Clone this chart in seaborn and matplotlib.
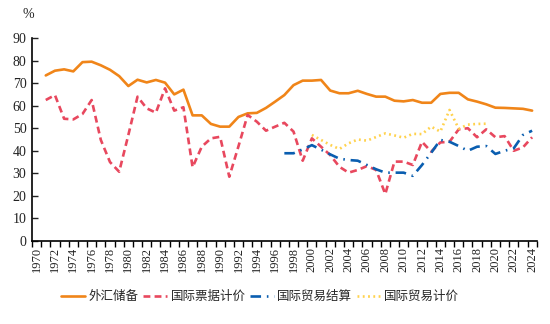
import numpy as np
import pandas as pd
import matplotlib
matplotlib.use("Agg")
import matplotlib.pyplot as plt
import seaborn as sns

# ---------------- data ----------------
years_all = list(range(1970, 2025))
tick_years = list(range(1970, 2025, 2))

fx_years = list(range(1971, 2025))
fx_reserves = [73.4, 75.5, 76.1, 75.2, 79.3, 79.5, 77.9, 75.9, 73.1, 68.7,
               71.5, 70.3, 71.4, 70.2, 65.0, 67.1, 55.7, 55.7, 51.9, 50.7,
               50.7, 55.0, 56.6, 56.8, 59.0, 61.8, 64.7, 69.1, 71.1, 71.1,
               71.4, 66.7, 65.5, 65.5, 66.6, 65.2, 64.0, 64.0, 62.2, 61.9,
               62.5, 61.3, 61.3, 65.2, 65.7, 65.7, 62.8, 61.8, 60.6, 59.1,
               59.0, 58.8, 58.6, 57.8]

bill_years = list(range(1971, 2025))
bill_pricing = [62.5, 64.7, 54.2, 53.9, 56.3, 62.5, 44.8, 35.0, 30.7, 47.0,
                64.0, 58.8, 56.9, 67.7, 57.8, 59.3, 32.7, 41.8, 45.5, 46.2,
                28.5, 42.0, 55.9, 52.9, 48.9, 50.7, 52.4, 48.5, 35.6, 45.5,
                41.8, 38.1, 32.9, 30.3, 31.5, 33.2, 31.5, 20.8, 35.2, 35.2,
                33.7, 44.0, 39.6, 43.7, 44.0, 49.5, 50.0, 46.0, 49.5, 46.0,
                46.5, 40.0, 41.5, 46.0]

settle_years = list(range(1997, 2025))
trade_settlement = [38.9, 38.9, 40.6, 42.5, 40.5, 38.4, 36.5, 35.9, 35.6, 33.7,
                    31.8, 30.3, 30.3, 30.3, 28.9, 33.7, 39.1, 44.8, 44.0, 42.1,
                    40.0, 41.8, 42.1, 38.6, 40.0, 41.1, 47.0, 48.9]

tprice_years = list(range(2000, 2020))
trade_pricing = [47.0, 44.8, 42.6, 40.8, 43.3, 45.0, 44.5, 46.1, 47.7, 46.8,
                 45.8, 47.5, 47.4, 50.7, 48.5, 58.1, 49.8, 51.6, 51.9, 52.0]

series_names = ["外汇储备", "国际票据计价", "国际贸易结算", "国际贸易计价"]

df = pd.concat([
    pd.DataFrame({"year": fx_years, "value": fx_reserves, "series": series_names[0]}),
    pd.DataFrame({"year": bill_years, "value": bill_pricing, "series": series_names[1]}),
    pd.DataFrame({"year": settle_years, "value": trade_settlement, "series": series_names[2]}),
    pd.DataFrame({"year": tprice_years, "value": trade_pricing, "series": series_names[3]}),
], ignore_index=True)

# ---------------- style ----------------
sns.set_theme(style="white")
plt.rcParams["font.family"] = ["Liberation Serif", "Noto Sans CJK SC", "DejaVu Sans"]
plt.rcParams["axes.unicode_minus"] = False

palette = {
    "外汇储备": "#F08519",
    "国际票据计价": "#E8485E",
    "国际贸易结算": "#0A5EB0",
    "国际贸易计价": "#FFD24D",
}
dashes = {
    "外汇储备": "",
    "国际票据计价": (2.6, 1.6),
    "国际贸易结算": (4.0, 2.2, 0.6, 2.2),
    "国际贸易计价": (0.7, 1.3),
}

fig = plt.figure(figsize=(5.5, 3.24), dpi=100)
ax = fig.add_axes([32 / 550, 1 - 241 / 324, (536.7 - 32) / 550, (241 - 38) / 324])

sns.lineplot(data=df, x="year", y="value", hue="series", style="series",
             hue_order=series_names, style_order=series_names,
             palette=palette, dashes=dashes, linewidth=1.9, ax=ax,
             sort=True, estimator=None)

ax.set_xlim(1969.5, 2024.5)
ax.set_ylim(0, 90)
ax.set_yticks(range(0, 91, 10))
ax.set_xticks(tick_years)
ax.set_xticklabels([str(y) for y in tick_years], rotation=90)
ax.set_xticks([y - 0.5 for y in years_all] + [2024.5], minor=True)
ax.tick_params(axis="x", which="major", length=0, pad=4, labelsize=9, colors="#222222")
ax.tick_params(axis="x", which="minor", length=4, width=1, direction="out", color="black", bottom=True)
ax.tick_params(axis="y", which="major", length=4, width=1, direction="in", labelsize=10, colors="#222222", pad=4, left=True)
ax.set_xlabel("")
ax.set_ylabel("")

for s in ["top", "right"]:
    ax.spines[s].set_visible(False)
for s in ["left", "bottom"]:
    ax.spines[s].set_color("black")
    ax.spines[s].set_linewidth(1.2)

fig.text(28 / 550, 1 - 15 / 324, "%", ha="center", va="center", fontsize=10, color="#222222")

handles, labels = ax.get_legend_handles_labels()
ax.get_legend().remove()
fig.legend(handles, labels, loc="center", bbox_to_anchor=(0.473, 1 - 297 / 324),
           ncol=4, frameon=False, fontsize=9, handlelength=1.9, handletextpad=0.3,
           columnspacing=0.35, borderpad=0.2)

fig.savefig("out.png", dpi=100)
